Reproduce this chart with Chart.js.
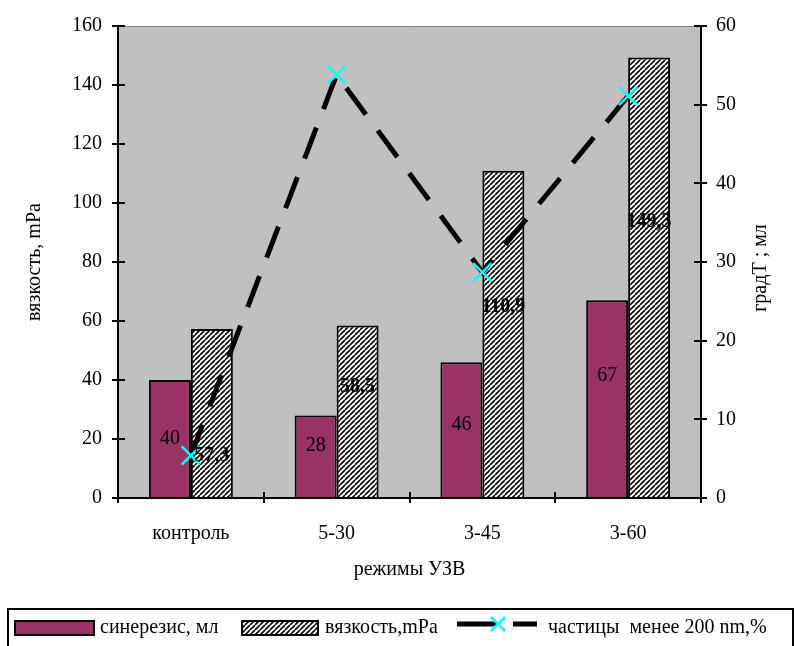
<!DOCTYPE html>
<html>
<head>
<meta charset="utf-8">
<script src="https://cdn.jsdelivr.net/npm/chart.js@4.4.1/dist/chart.umd.min.js"></script>
<style>
  body { margin: 0; background: #fff; }
  canvas { display: block; }
</style>
</head>
<body>
<canvas id="chart" width="795" height="646"></canvas>
<script>
// data
const categories = ["контроль", "5-30", "3-45", "3-60"];
const syneresis = [40, 28, 46, 67];           // синерезис, мл (left axis)
const viscosity = [57.3, 58.5, 110.9, 149.3]; // вязкость, mPa (left axis)
const particles = [5.4, 53.8, 28.7, 51.1];    // частицы менее 200 nm, % (right axis)
const leftTicks = [0, 20, 40, 60, 80, 100, 120, 140, 160];
const rightTicks = [0, 10, 20, 30, 40, 50, 60];

const serif = "'Liberation Serif', 'Times New Roman', serif";
Chart.defaults.font.family = serif;
Chart.defaults.font.size = 20;
Chart.defaults.color = '#000';

const maroon = '#993366';
const canvas = document.getElementById("chart");
const ctx = canvas.getContext("2d");

// diagonal hatch for the viscosity bars
const hatchTile = document.createElement("canvas");
hatchTile.width = hatchTile.height = 5;
const h = hatchTile.getContext("2d");
h.fillStyle = '#fff';
h.fillRect(0, 0, 5, 5);
h.strokeStyle = '#000';
h.lineWidth = 1.6;
h.beginPath();
for (const k of [-5, 0, 5]) { h.moveTo(k, 5); h.lineTo(k + 5, 0); }
h.stroke();
const hatchFill = ctx.createPattern(hatchTile, 'repeat');

// grey plot area with thin top border
const plotBackground = {
    id: 'plotBackground',
    beforeDraw(chart) {
        const { ctx, chartArea: a } = chart;
        ctx.save();
        ctx.fillStyle = '#C0C0C0';
        ctx.fillRect(a.left, a.top, a.right - a.left, a.bottom - a.top);
        ctx.strokeStyle = '#808080';
        ctx.lineWidth = 1;
        ctx.beginPath();
        ctx.moveTo(a.left, a.top + 0.5);
        ctx.lineTo(a.right, a.top + 0.5);
        ctx.stroke();
        ctx.restore();
    }
};

// tick marks cross the axes a little, plus right title reading upwards
const axisExtras = {
    id: 'axisExtras',
    afterDraw(chart) {
        const { ctx, chartArea: a, scales } = chart;
        ctx.save();
        ctx.strokeStyle = '#000';
        ctx.lineWidth = 2;
        ctx.beginPath();
        scales.y.ticks.forEach((t, i) => {
            const py = Math.round(scales.y.getPixelForTick(i));
            ctx.moveTo(a.left, py); ctx.lineTo(a.left + 7, py);
        });
        scales.y1.ticks.forEach((t, i) => {
            const py = Math.round(scales.y1.getPixelForTick(i));
            ctx.moveTo(a.right - 7, py); ctx.lineTo(a.right, py);
        });
        for (let i = 0; i < categories.length - 1; i++) {
            const px = Math.round((scales.x.getPixelForValue(i) + scales.x.getPixelForValue(i + 1)) / 2);
            ctx.moveTo(px, a.bottom - 6); ctx.lineTo(px, a.bottom);
        }
        ctx.stroke();

        ctx.translate(761, 268);
        ctx.rotate(-Math.PI / 2);
        ctx.font = '20px ' + serif;
        ctx.fillStyle = '#000';
        ctx.textAlign = 'center';
        ctx.textBaseline = 'middle';
        ctx.fillText('градТ ; мл', 0, 0);
        ctx.restore();
    }
};

// value labels on bars (Excel put them a bit off centre)
const labelNudge = { 1: [0, -10, -5, -23], 2: [43, -24, -27, -55] };
const barLabels = {
    id: 'barLabels',
    afterDatasetsDraw(chart) {
        const { ctx } = chart;
        ctx.save();
        ctx.textAlign = 'center';
        ctx.textBaseline = 'middle';
        ctx.fillStyle = '#000';
        [1, 2].forEach(di => {
            const ds = chart.data.datasets[di];
            ctx.font = (di === 2 ? 'bold ' : '') + '20px ' + serif;
            chart.getDatasetMeta(di).data.forEach((bar, i) => {
                const y = (bar.y + bar.base) / 2 + labelNudge[di][i];
                ctx.fillText(String(ds.data[i]).replace('.', ','), bar.x, y);
            });
        });
        ctx.restore();
    }
};

// boxed legend at the bottom
const boxLegend = {
    id: 'boxLegend',
    afterDraw(chart) {
        const { ctx } = chart;
        const ds = chart.data.datasets;
        const cy = 628;
        ctx.save();
        ctx.strokeStyle = '#000';
        ctx.lineWidth = 2;
        ctx.strokeRect(8, 609, 785, 60);

        ctx.lineWidth = 2;
        ctx.fillStyle = maroon;
        ctx.fillRect(15, 621, 79, 14);
        ctx.strokeRect(15, 621, 79, 14);
        ctx.fillStyle = hatchFill;
        ctx.fillRect(242, 621, 76, 14);
        ctx.strokeRect(242, 621, 76, 14);

        ctx.lineWidth = 5;
        ctx.setLineDash([40, 16]);
        ctx.beginPath();
        ctx.moveTo(457, 624); ctx.lineTo(537, 624);
        ctx.stroke();
        ctx.setLineDash([]);
        ctx.strokeStyle = '#00FFFF';
        ctx.lineWidth = 2.5;
        ctx.beginPath();
        ctx.moveTo(491, 617); ctx.lineTo(505, 631);
        ctx.moveTo(505, 617); ctx.lineTo(491, 631);
        ctx.stroke();

        ctx.fillStyle = '#000';
        ctx.font = '20px ' + serif;
        ctx.textBaseline = 'middle';
        ctx.fillText(ds[1].label, 100, cy);
        ctx.fillText(ds[2].label, 325, cy);
        ctx.fillText(ds[0].label, 548, cy);
        ctx.restore();
    }
};

const axisGrid = { drawOnChartArea: false, color: '#000', lineWidth: 2, tickLength: 6 };
const axisBorder = { color: '#000', width: 2 };

new Chart(canvas, {
    type: 'bar',
    data: {
        labels: categories,
        datasets: [{
            type: 'line',
            label: 'частицы  менее 200 nm,%',
            data: particles,
            yAxisID: 'y1',
            order: 0,
            borderColor: '#000',
            borderWidth: 5,
            borderDash: [33, 20],
            fill: false,
            tension: 0,
            pointStyle: 'crossRot',
            pointRadius: 13,
            pointBorderColor: '#00FFFF',
            pointBorderWidth: 2.5
        }, {
            label: 'синерезис, мл',
            data: syneresis,
            yAxisID: 'y',
            order: 1,
            backgroundColor: maroon,
            borderColor: '#000',
            borderWidth: 2
        }, {
            label: 'вязкость,mPa',
            data: viscosity,
            yAxisID: 'y',
            order: 1,
            backgroundColor: hatchFill,
            borderColor: '#000',
            borderWidth: 2
        }]
    },
    options: {
        responsive: false,
        animation: false,
        categoryPercentage: 0.576,
        barPercentage: 1,
        layout: { padding: { top: 26, left: 0, right: 0, bottom: 0 } },
        scales: {
            x: {
                grid: { ...axisGrid, tickLength: 5, offset: true },
                border: axisBorder,
                ticks: { padding: 19, maxRotation: 0 },
                title: { display: true, text: 'режимы УЗВ', padding: { top: 0, bottom: 64 } },
                afterFit(s) { s.height = 148; }
            },
            y: {
                position: 'left',
                min: leftTicks[0],
                max: leftTicks[leftTicks.length - 1],
                ticks: { stepSize: leftTicks[1] - leftTicks[0], padding: 10 },
                grid: axisGrid,
                border: axisBorder,
                title: { display: true, text: 'вязкость, mPa', padding: { top: 23, bottom: 0 } },
                afterFit(s) { s.width = 118; }
            },
            y1: {
                position: 'right',
                min: rightTicks[0],
                max: rightTicks[rightTicks.length - 1],
                ticks: { stepSize: rightTicks[1] - rightTicks[0], padding: 9 },
                grid: axisGrid,
                border: axisBorder,
                afterFit(s) { s.width = 94; }
            }
        },
        plugins: {
            legend: { display: false },
            tooltip: { enabled: false }
        }
    },
    plugins: [plotBackground, axisExtras, barLabels, boxLegend]
});
</script>
</body>
</html>
